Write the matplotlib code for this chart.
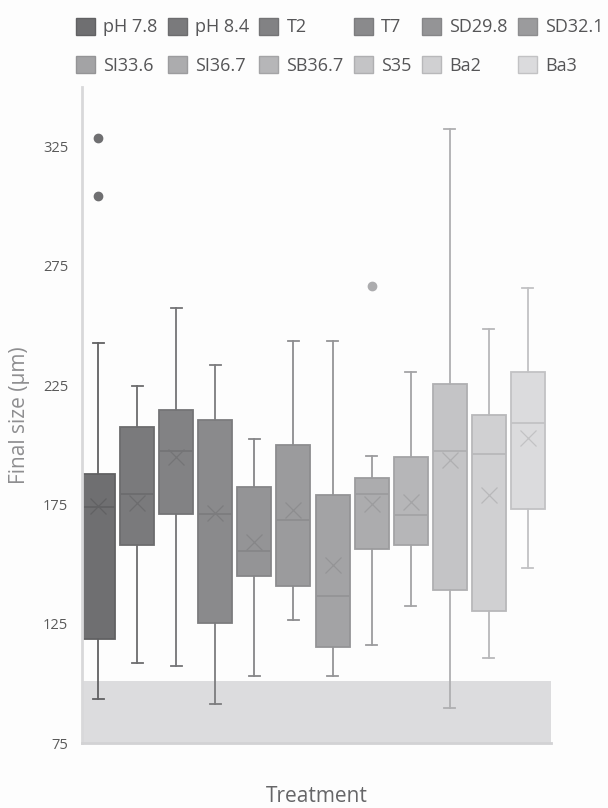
"""Final size by treatment: grey box plots with mean markers."""

import matplotlib

matplotlib.use("Agg")
import matplotlib.pyplot as plt
from matplotlib.patches import Patch

TREATMENTS = ["pH 7.8", "pH 8.4", "T2", "T7", "SD29.8", "SD32.1",
              "SI33.6", "SI36.7", "SB36.7", "S35", "Ba2", "Ba3"]

WHIS_LO = [93.4, 108.5, 107.4, 91.4, 103.2, 126.7, 103.3, 116.2, 132.6, 89.6, 110.6, 148.4]
Q1 = [118.6, 158.2, 171.1, 125.4, 145.2, 141.0, 115.2, 156.5, 157.9, 139.0, 130.2, 173.3]
MEDIAN = [173.9, 179.5, 197.4, 171.2, 155.4, 168.4, 136.8, 179.3, 170.4, 197.4, 196.0, 209.3]
Q3 = [187.6, 207.5, 214.4, 210.4, 182.3, 199.9, 178.9, 186.3, 194.9, 225.4, 212.4, 230.6]
WHIS_HI = [242.6, 224.7, 257.4, 233.4, 202.3, 243.6, 243.6, 195.2, 230.6, 332.6, 248.5, 265.6]
MEAN = [174.3, 175.7, 195.0, 171.5, 159.2, 172.6, 149.8, 175.2, 176.1, 193.5, 178.9, 203.0]
OUTLIERS = [[328.6, 304.4], [], [], [], [], [], [], [266.5], [], [], [], []]

FILLS = ["#6f6f71", "#7a7a7c", "#828284", "#8a8a8c", "#949496", "#9b9b9d",
         "#a3a3a5", "#acacae", "#b6b6b8", "#c4c4c6", "#d0d0d2", "#dbdbdd"]
LINES = ["#616163", "#6c6c6e", "#747476", "#7c7c7e", "#868688", "#8d8d8f",
         "#949496", "#9c9c9e", "#a4a4a6", "#afafb1", "#b8b8ba", "#c2c2c4"]

LEGEND_FONT = ["Open Sans", "DejaVu Sans"]
AXIS_FONT = ["Open Sans", "DejaVu Sans"]


def main():
    fig = plt.figure(figsize=(6.08, 8.08), dpi=100)
    fig.patch.set_facecolor("#fdfdfd")
    ax = fig.add_axes([0.1349, 0.0804, 0.9062 - 0.1349, 0.8923 - 0.0804])
    ax.set_facecolor("#fdfdfd")

    # grey band at the bottom of the plot
    ax.axhspan(75, 101, color="#dcdcde", lw=0, zorder=0)

    for i, name in enumerate(TREATMENTS):
        stats = [{
            "label": name,
            "whislo": WHIS_LO[i], "q1": Q1[i], "med": MEDIAN[i],
            "q3": Q3[i], "whishi": WHIS_HI[i], "mean": MEAN[i],
            "fliers": OUTLIERS[i],
        }]
        ax.bxp(
            stats,
            positions=[i + 1],
            widths=0.87,
            capwidths=0.28,
            patch_artist=True,
            showmeans=True,
            boxprops=dict(facecolor=FILLS[i], edgecolor=LINES[i], lw=1.3),
            medianprops=dict(color=LINES[i], lw=1.3),
            whiskerprops=dict(color=LINES[i], lw=1.3),
            capprops=dict(color=LINES[i], lw=1.3),
            meanprops=dict(marker="x", markersize=11, markeredgecolor=LINES[i],
                           markeredgewidth=0.9),
            flierprops=dict(marker="o", markersize=6, markerfacecolor=FILLS[i],
                            markeredgecolor=FILLS[i]),
            zorder=2,
        )

    ax.set_xlim(0.59, 12.59)
    ax.set_ylim(75, 350)
    ax.set_yticks([75, 125, 175, 225, 275, 325])
    ax.set_xticks([])
    ax.tick_params(axis="y", length=0, pad=10, labelsize=10.5, labelcolor="#5a5a5a")
    for lbl in ax.get_yticklabels():
        lbl.set_family(AXIS_FONT)

    for side in ["top", "right"]:
        ax.spines[side].set_visible(False)
    ax.spines["left"].set_color("#d8d8da")
    ax.spines["left"].set_linewidth(2.0)
    ax.spines["bottom"].set_color("#d2d2d4")
    ax.spines["bottom"].set_linewidth(2.0)

    ax.set_ylabel("Final size (\u03bcm)", fontsize=15, color="#8e8e90",
                  family=AXIS_FONT, labelpad=9)
    ax.set_xlabel("Treatment", fontsize=15, color="#666668",
                  family=AXIS_FONT, labelpad=31)

    # legend: row-major order in a column-major legend
    handles = [Patch(facecolor=FILLS[i], edgecolor=LINES[i], label=TREATMENTS[i])
               for i in range(len(TREATMENTS))]
    order = []
    for col in range(6):
        order += [col, col + 6]
    fig.legend(
        handles=[handles[k] for k in order],
        loc="upper left",
        bbox_to_anchor=(0.098, 0.998),
        ncol=6,
        frameon=False,
        handlelength=1.05,
        handleheight=1.05,
        handletextpad=0.45,
        columnspacing=0.58,
        labelspacing=1.1,
        prop={"family": LEGEND_FONT, "size": 13},
        labelcolor="#555557",
    )

    fig.savefig("out.png", dpi=100, facecolor=fig.get_facecolor())


if __name__ == "__main__":
    main()
